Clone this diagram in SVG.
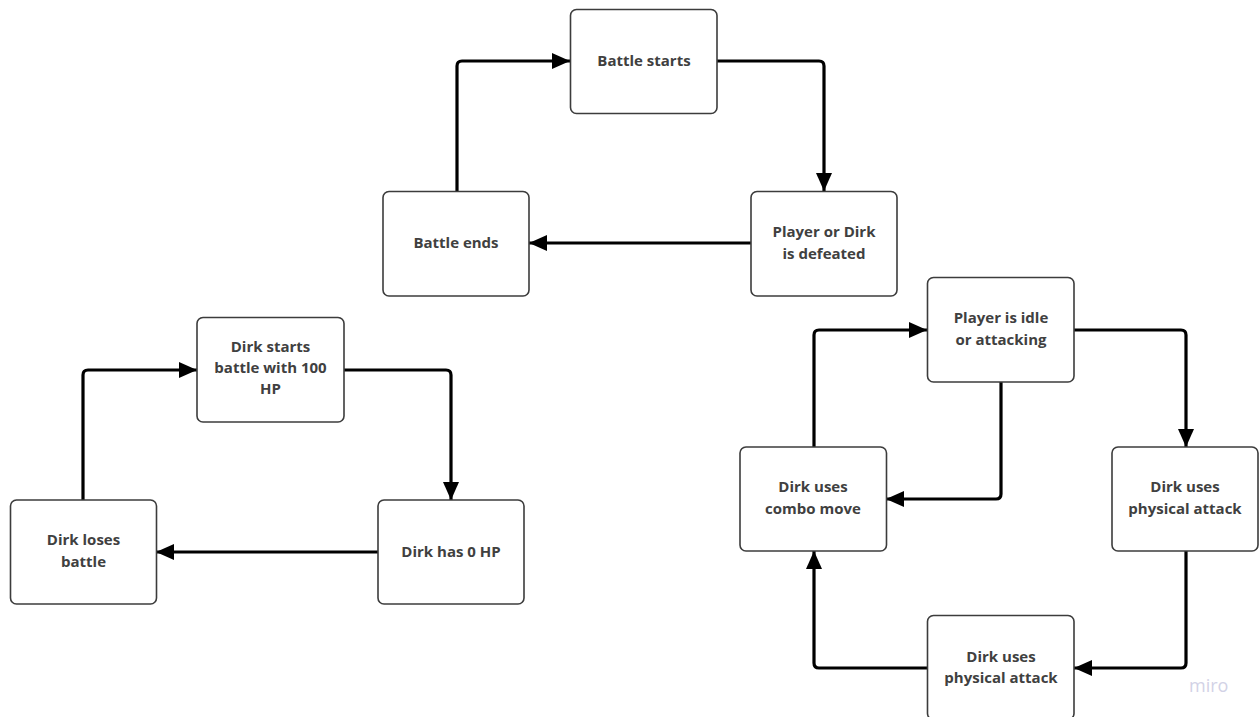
<svg xmlns="http://www.w3.org/2000/svg" width="1259" height="717" viewBox="0 0 1259 717">
<style>
.box{fill:#ffffff;stroke:#3c3c3c;stroke-width:1.6}
.lbl{font-family:"Open Sans","Liberation Sans",sans-serif;font-weight:bold;font-size:15px;fill:#404040;text-anchor:middle}
.conn{fill:none;stroke:#000;stroke-width:3.2;stroke-linejoin:round;marker-end:url(#arr)}
.wm{font-family:"Open Sans","Liberation Sans",sans-serif;font-size:18px;fill:#d2d2e6}
</style>
<defs>
<marker id="arr" markerUnits="userSpaceOnUse" markerWidth="19" markerHeight="16" refX="18" refY="8" orient="auto">
<path d="M0,0 L18,8 L0,16 Z" fill="#000"/>
</marker>
</defs>
<rect width="1259" height="717" fill="#ffffff"/>
<g id="connectors">
<path class="conn" d="M457,191 V66 Q457,61 462,61 H570"/>
<path class="conn" d="M717,61 H819 Q824,61 824,66 V191"/>
<path class="conn" d="M751,243 H529"/>
<path class="conn" d="M83,500 V375 Q83,370 88,370 H197"/>
<path class="conn" d="M344,370 H446 Q451,370 451,375 V500"/>
<path class="conn" d="M378,552 H156"/>
<path class="conn" d="M814,447 V335 Q814,330 819,330 H927"/>
<path class="conn" d="M1074,330 H1181 Q1186,330 1186,335 V447"/>
<path class="conn" d="M1001,382 V494 Q1001,499 996,499 H886"/>
<path class="conn" d="M1186,551 V663 Q1186,668 1181,668 H1074"/>
<path class="conn" d="M927,668 H819 Q814,668 814,663 V551"/>
</g>
<g id="battle-starts">
<rect class="box" x="570.5" y="9.5" width="146.5" height="104" rx="6"/>
<text class="lbl" x="644" y="66">Battle starts</text>
</g>
<g id="battle-ends">
<rect class="box" x="383" y="191.5" width="146" height="104.5" rx="6"/>
<text class="lbl" x="456" y="248">Battle ends</text>
</g>
<g id="player-or-dirk-defeated">
<rect class="box" x="751" y="191.5" width="146" height="104.5" rx="6"/>
<text class="lbl" x="824" y="237">Player or Dirk</text>
<text class="lbl" x="824" y="259">is defeated</text>
</g>
<g id="dirk-starts">
<rect class="box" x="197" y="317.5" width="147" height="104.5" rx="6"/>
<text class="lbl" x="270.5" y="352">Dirk starts</text>
<text class="lbl" x="270.5" y="373">battle with 100</text>
<text class="lbl" x="270.5" y="394">HP</text>
</g>
<g id="dirk-loses">
<rect class="box" x="10.5" y="500" width="146" height="104" rx="6"/>
<text class="lbl" x="83.5" y="545">Dirk loses</text>
<text class="lbl" x="83.5" y="567">battle</text>
</g>
<g id="dirk-has-0hp">
<rect class="box" x="378" y="500" width="146" height="104" rx="6"/>
<text class="lbl" x="451" y="557">Dirk has 0 HP</text>
</g>
<g id="player-idle">
<rect class="box" x="927.5" y="277.5" width="146.5" height="104.5" rx="6"/>
<text class="lbl" x="1001" y="323">Player is idle</text>
<text class="lbl" x="1001" y="345">or attacking</text>
</g>
<g id="dirk-combo">
<rect class="box" x="740" y="447" width="146.5" height="104" rx="6"/>
<text class="lbl" x="813" y="492">Dirk uses</text>
<text class="lbl" x="813" y="514">combo move</text>
</g>
<g id="dirk-physical-right">
<rect class="box" x="1112" y="447" width="146" height="104" rx="6"/>
<text class="lbl" x="1185" y="492">Dirk uses</text>
<text class="lbl" x="1185" y="514">physical attack</text>
</g>
<g id="dirk-physical-bottom">
<rect class="box" x="927.5" y="615.5" width="146.5" height="104" rx="6"/>
<text class="lbl" x="1001" y="662">Dirk uses</text>
<text class="lbl" x="1001" y="683">physical attack</text>
</g>
<text class="wm" x="1189" y="692">miro</text>
</svg>
